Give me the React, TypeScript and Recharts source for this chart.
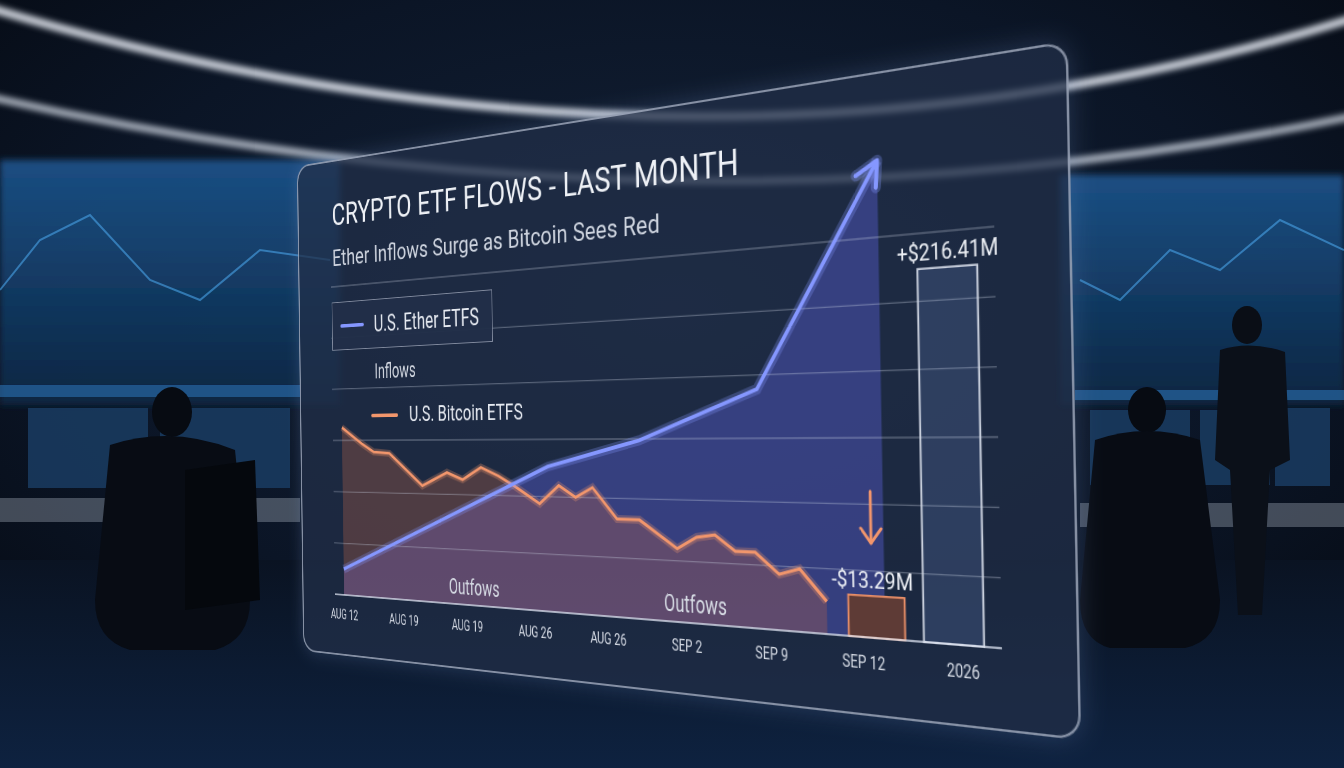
import React from 'react';
import { ComposedChart, Area, Line, Bar, Cell, XAxis, YAxis, ReferenceLine, LabelList } from 'recharts';

// ---- data (y in $M-like units, x in tick positions) ----
const xLabels = ['AUG 12', 'AUG 19', 'AUG 19', 'AUG 26', 'AUG 26', 'SEP 2', 'SEP 9', 'SEP 12', '2026'];
const xTicks = [0, 1, 2, 3, 4, 5, 6, 7, 8];
const gridTicks = [40, 80, 120, 160, 200, 240];

const btcPos = [0, 0.35, 0.54, 0.8, 1.33, 1.72, 1.96, 2.24, 2.5, 2.73, 3.09, 3.36, 3.59, 3.82, 4.14, 4.43, 4.9, 5.14, 5.36, 5.6, 5.83, 6.1, 6.33, 6.62];
const btcFlow = [130, 117, 111, 110, 86, 96, 91, 100, 94, 87, 75, 88, 80, 87, 66, 66, 48, 56, 58, 48, 48, 35, 39, 20];

const ethPos = [0, 3.21, 4.44, 5.88, 7.23];
const ethFlow = [20, 101, 119, 151, 286];

const barPos = [7.14, 7.91];
const barHeights = [25, 219];
const barLabels = ['-$13.29M', '+$216.41M'];

const titleText = 'CRYPTO ETF FLOWS - LAST MONTH';
const subtitleText = 'Ether Inflows Surge as Bitcoin Sees Red';

// ---- tables built from the arrays ----
const btcData = btcPos.map((x, i) => ({ x, btc: btcFlow[i] }));
const ethData = ethPos.map((x, i) => ({ x, eth: ethFlow[i] }));
const barData = barPos.map((x, i) => ({ x, height: barHeights[i], label: barLabels[i] }));

const ETH = '#8597ff';
const BTC = '#f2966c';
const barFills = ['#5e3b36', 'rgba(72,94,138,0.42)'];
const barStrokes = ['#e98f68', '#c9d0dd'];
const X_DOMAIN: [number, number] = [-0.16, 8.37];

const FONT = "Roboto, 'Open Sans', sans-serif";

let prevPt = { x: 0, y: 0 };
const EthDot = (props: any) => {
  const { cx, cy, index } = props;
  if (cx == null || cy == null) return <g key={`d${index}`} />;
  if (index < ethPos.length - 1) {
    prevPt = { x: cx, y: cy };
    return <g key={`d${index}`} />;
  }
  const ang = Math.atan2(cy - prevPt.y, cx - prevPt.x);
  const L = 24;
  const a1 = ang + Math.PI - 0.5;
  const a2 = ang + Math.PI + 0.5;
  const d = `M${cx + L * Math.cos(a1)},${cy + L * Math.sin(a1)} L${cx},${cy} L${cx + L * Math.cos(a2)},${cy + L * Math.sin(a2)}`;
  return (
    <g key={`d${index}`}>
      <path d={d} stroke={ETH} strokeOpacity={0.3} strokeWidth={10} fill="none" strokeLinecap="round" strokeLinejoin="round" />
      <path d={d} stroke={ETH} strokeWidth={4} fill="none" strokeLinecap="round" strokeLinejoin="round" />
    </g>
  );
};

const BarLabel = (props: any) => {
  const { x, y, width, index } = props;
  if (x == null || y == null) return null;
  const cx = x + width / 2;
  const text = barLabels[index];
  if (index === 0) {
    return (
      <g>
        <line x1={cx - 4} y1={y - 93} x2={cx - 4} y2={y - 47} stroke={BTC} strokeWidth={2.8} strokeLinecap="round" />
        <path d={`M${cx - 14},${y - 60} L${cx - 4},${y - 47} L${cx + 6},${y - 60}`} stroke={BTC} strokeWidth={2.8} fill="none" strokeLinecap="round" strokeLinejoin="round" />
        <text x={0} y={0} transform={`translate(${cx - 4},${y - 7}) scale(0.9,1)`} textAnchor="middle" fill="#eef1f6" fontSize={21} fontFamily={FONT}>{text}</text>
      </g>
    );
  }
  return (
    <text x={0} y={0} transform={`translate(${cx},${y - 7}) scale(0.92,1)`} textAnchor="middle" fill="#eef1f6" fontSize={20} fontFamily={FONT}>{text}</text>
  );
};

const AxisTick = (props: any) => {
  const { x, y, payload } = props;
  return (
    <text x={0} y={0} transform={`translate(${x},${y + 28}) scale(0.84,1)`} textAnchor="middle" fill="#d5dae4" fontSize={16} fontFamily={FONT}>
      {xLabels[payload.value]}
    </text>
  );
};

const Words = ({ text }: { text: string }) => (
  <>
    {text.split(' ').map((w, i) => (
      <span key={i} style={{ display: 'inline-block', marginRight: '0.26em' }}>{w}</span>
    ))}
  </>
);

const Background = () => (
  <svg width={1344} height={768} style={{ position: 'absolute', left: 0, top: 0 }}>
    <defs>
      <radialGradient id="bgGrad" cx="50%" cy="40%" r="80%">
        <stop offset="0" stopColor="#142238" />
        <stop offset="0.55" stopColor="#0b1526" />
        <stop offset="1" stopColor="#04070d" />
      </radialGradient>
      <linearGradient id="scr" x1="0" y1="0" x2="0" y2="1">
        <stop offset="0" stopColor="#1d5893" stopOpacity={0.85} />
        <stop offset="1" stopColor="#0c2744" stopOpacity={0.9} />
      </linearGradient>
      <linearGradient id="floor" x1="0" y1="0" x2="0" y2="1">
        <stop offset="0" stopColor="#0a1322" />
        <stop offset="1" stopColor="#0e2240" />
      </linearGradient>
      <filter id="soft"><feGaussianBlur stdDeviation="3" /></filter>
    </defs>
    <rect width={1344} height={768} fill="url(#bgGrad)" />
    <rect x={0} y={560} width={1344} height={208} fill="url(#floor)" />
    {/* wall screens */}
    <rect x={0} y={160} width={340} height={245} fill="url(#scr)" filter="url(#soft)" />
    <rect x={1060} y={175} width={284} height={230} fill="url(#scr)" filter="url(#soft)" />
    <polyline points="0,290 40,240 90,215 150,280 200,300 260,250 330,260" stroke="#4aa3e8" strokeWidth={2} fill="none" opacity={0.6} />
    <polyline points="1080,280 1120,300 1170,250 1220,270 1280,220 1344,250" stroke="#4aa3e8" strokeWidth={2} fill="none" opacity={0.6} />
    <rect x={0} y={385} width={300} height={12} fill="#2f7fc8" opacity={0.5} />
    <rect x={1075} y={390} width={269} height={10} fill="#2f7fc8" opacity={0.5} />
    {/* desk monitors */}
    <rect x={28} y={408} width={120} height={80} fill="#1a3c62" opacity={0.85} />
    <rect x={160} y={408} width={130} height={80} fill="#1a3c62" opacity={0.85} />
    <rect x={1090} y={410} width={100} height={75} fill="#1a3c62" opacity={0.85} />
    <rect x={1200} y={410} width={70} height={75} fill="#1a3c62" opacity={0.85} />
    <rect x={1275} y={408} width={55} height={78} fill="#1a3c62" opacity={0.85} />
    <rect x={0} y={498} width={300} height={24} fill="#c9d3e0" opacity={0.3} />
    <rect x={1080} y={503} width={264} height={24} fill="#c9d3e0" opacity={0.3} />
    {/* silhouettes */}
    <ellipse cx={172} cy={412} rx={20} ry={25} fill="#070b12" />
    <path d="M110,445 Q172,425 235,450 L250,600 Q250,640 215,650 L130,650 Q95,640 95,600 Z" fill="#080c14" />
    <path d="M185,470 L255,460 L260,600 L185,610 Z" fill="#05080d" />
    <ellipse cx={1147} cy={410} rx={19} ry={23} fill="#070b12" />
    <path d="M1095,440 Q1147,422 1200,440 L1220,600 Q1220,640 1185,648 L1110,648 Q1080,640 1080,600 Z" fill="#080c14" />
    <ellipse cx={1247} cy={325} rx={15} ry={19} fill="#0a0e16" />
    <path d="M1220,350 Q1250,340 1285,352 L1290,460 L1270,470 L1262,615 L1238,615 L1230,470 L1215,460 Z" fill="#0b1019" />
    {/* ceiling light rings */}
    <path d="M-10,8 Q700,220 1354,18" fill="none" stroke="#eef3fb" strokeWidth={8} opacity={0.9} filter="url(#soft)" />
    <path d="M-10,97 Q690,255 1354,116" fill="none" stroke="#e2e9f4" strokeWidth={7} opacity={0.8} filter="url(#soft)" />
  </svg>
);

const narrow = (scale: number): React.CSSProperties => ({
  position: 'absolute',
  whiteSpace: 'nowrap',
  lineHeight: 1,
  transform: `scaleX(${scale})`,
  transformOrigin: 'left top',
  fontFamily: FONT,
});

export default function App() {
  const PW = 926;
  const PH = 573;
  return (
    <div style={{ position: 'fixed', left: 0, top: 0, width: 1344, height: 768, overflow: 'hidden', background: '#060a12', fontFamily: FONT }}>
      <Background />
      <div
        style={{
          position: 'absolute',
          left: 617 - PW / 2,
          top: 400 - PH / 2,
          width: PW,
          height: PH,
          transform: 'perspective(1500px) rotateY(-36deg) rotateZ(-1.1deg)',
          transformOrigin: '50% 50%',
        }}
      >
        <div
          style={{
            position: 'absolute',
            left: 0,
            top: 0,
            width: PW,
            height: PH,
            borderRadius: 20,
            background: 'rgba(32,46,72,0.74)',
            border: '2.5px solid rgba(205,214,230,0.6)',
            boxShadow: '0 0 22px rgba(120,150,210,0.25)',
            boxSizing: 'border-box',
          }}
        />
        <div style={{ position: 'absolute', left: 0, top: 0 }}>
          <ComposedChart width={PW} height={PH} data={barData} margin={{ top: 58, right: 66, bottom: 40, left: 55 }}>
            <XAxis
              dataKey="x"
              type="number"
              domain={X_DOMAIN}
              ticks={xTicks}
              interval={0}
              axisLine={{ stroke: 'rgba(215,222,235,0.75)', strokeWidth: 1.8 }}
              tickLine={false}
              tickSize={0}
              tickMargin={0}
              tick={<AxisTick />}
              height={30}
            />
            <XAxis xAxisId="bars" dataKey="x" type="number" domain={X_DOMAIN} hide />
            <YAxis hide type="number" domain={[0, 300]} />
            {gridTicks.map((t) => (
              <ReferenceLine key={`g${t}`} y={t} stroke="rgba(205,215,232,0.33)" strokeWidth={1.3} />
            ))}
            <Area data={ethData} dataKey="eth" type="linear" stroke="none" fill="#5a60d6" fillOpacity={0.42} isAnimationActive={false} />
            <Area data={btcData} dataKey="btc" type="linear" stroke="none" fill="#b0624a" fillOpacity={0.34} isAnimationActive={false} />
            <Bar xAxisId="bars" dataKey="height" barSize={55} isAnimationActive={false}>
              {barData.map((_, i) => (
                <Cell key={`c${i}`} fill={barFills[i]} stroke={barStrokes[i]} strokeWidth={1.8} />
              ))}
              <LabelList dataKey="height" content={BarLabel} />
            </Bar>
            <Line data={btcData} dataKey="btc" type="linear" stroke={BTC} strokeOpacity={0.28} strokeWidth={8} dot={false} isAnimationActive={false} />
            <Line data={btcData} dataKey="btc" type="linear" stroke={BTC} strokeWidth={3} dot={false} isAnimationActive={false} />
            <Line data={ethData} dataKey="eth" type="linear" stroke={ETH} strokeOpacity={0.28} strokeWidth={10} dot={false} isAnimationActive={false} />
            <Line data={ethData} dataKey="eth" type="linear" stroke={ETH} strokeWidth={3.8} dot={EthDot} isAnimationActive={false} />
          </ComposedChart>
        </div>

        {/* titles */}
        <div style={{ position: 'absolute', left: 58, top: 50, color: '#eef1f6', fontSize: 35, lineHeight: 0.85, whiteSpace: 'nowrap', fontFamily: FONT, transform: 'scaleX(0.97)', transformOrigin: 'left top' }}>
          <Words text={titleText} />
        </div>
        <div style={{ position: 'absolute', left: 58, top: 103, color: '#cdd3de', fontSize: 26, lineHeight: 0.85, whiteSpace: 'nowrap', fontFamily: FONT }}>
          <Words text={subtitleText} />
        </div>

        {/* legend */}
        <div
          style={{
            position: 'absolute',
            left: 56,
            top: 165,
            width: 245,
            height: 56,
            border: '1.8px solid rgba(205,212,225,0.55)',
            background: 'rgba(32,46,72,0.96)',
            boxSizing: 'border-box',
          }}
        >
          <div style={{ position: 'absolute', left: 13, top: 25, width: 38, height: 4, background: ETH, borderRadius: 2 }} />
          <div style={{ ...narrow(0.88), left: 67, top: 14, color: '#e6eaf1', fontSize: 26 }}>U.S. Ether ETFS</div>
        </div>
        <div style={{ ...narrow(0.86), left: 124, top: 236, color: '#d6dbe4', fontSize: 23 }}>Inflows</div>
        <div style={{ position: 'absolute', left: 118, top: 295, width: 42, height: 4, background: BTC, borderRadius: 2 }} />
        <div style={{ ...narrow(0.89), left: 177, top: 284, color: '#e6eaf1', fontSize: 24 }}>U.S. Bitcoin ETFS</div>
        <div style={{ ...narrow(0.8), left: 233, top: 472, color: '#d6dbe4', fontSize: 24 }}>Outfows</div>
        <div style={{ ...narrow(0.8), left: 516, top: 473, color: '#d6dbe4', fontSize: 24 }}>Outfows</div>
      </div>
    </div>
  );
}
